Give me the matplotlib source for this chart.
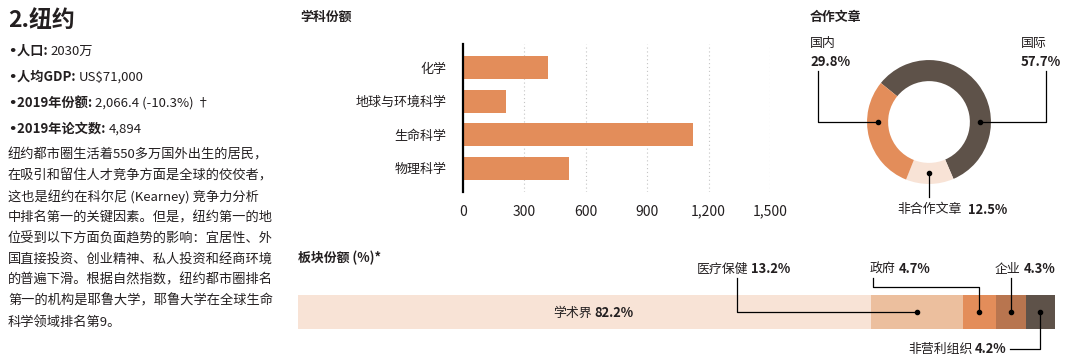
import matplotlib
matplotlib.use("Agg")
import matplotlib.pyplot as plt
import numpy as np

plt.rcParams["font.family"] = ["Noto Sans CJK SC", "DejaVu Sans"]

# ---- data ----
city_title = "2.纽约"
fact_keys = ["人口: ", "人均GDP: ", "2019年份额: ", "2019年论文数: "]
fact_vals = ["2030万", "US$71,000", "2,066.4 (-10.3%) †", "4,894"]
paragraph = [
    "纽约都市圈生活着550多万国外出生的居民，",
    "在吸引和留住人才竞争方面是全球的佼佼者，",
    "这也是纽约在科尔尼 (Kearney) 竞争力分析",
    "中排名第一的关键因素。但是，纽约第一的地",
    "位受到以下方面负面趋势的影响：宜居性、外",
    "国直接投资、创业精神、私人投资和经商环境",
    "的普遍下滑。根据自然指数，纽约都市圈排名",
    "第一的机构是耶鲁大学，耶鲁大学在全球生命",
    "科学领域排名第9。",
]

subjects = ["化学", "地球与环境科学", "生命科学", "物理科学"]
subject_share = [414, 209, 1124, 519]
subject_ticks = [0, 300, 600, 900, 1200, 1500]

collab_labels = ["国际", "非合作文章", "国内"]
collab_pct = [57.7, 12.5, 29.8]

sector_labels = ["学术界", "医疗保健", "政府", "企业", "非营利组织"]
sector_pct = [82.2, 13.2, 4.7, 4.3, 4.2]

# ---- style ----
DARK = "#5e5249"
ORANGE = "#e38d5a"
PALE = "#f8e3d6"
TAN = "#ecbf9e"
RUST = "#b8754f"
TXT = "#231f20"
W, H = 1080, 362

fig = plt.figure(figsize=(W / 100, H / 100), dpi=100)


def box(l, t, r, b):
    """axes rect from pixel edges (top-left origin)"""
    return [l / W, (H - b) / H, (r - l) / W, (b - t) / H]


# overlay in pixel coords for free text / leader lines
ov = fig.add_axes([0, 0, 1, 1], zorder=5)
ov.set_xlim(0, W); ov.set_ylim(H, 0); ov.axis("off")


def px(ax, x, y):
    dx, dy = ax.transData.transform((x, y))
    return dx * W / fig.bbox.width, H - dy * H / fig.bbox.height


def pair(x, y, a, b, size=9.3, gap=2):
    """regular text a followed by bold text b"""
    t = ov.text(x, y, a, fontsize=size, color=TXT, ha="left", va="center")
    ov.annotate(b, xy=(1, 0.5), xycoords=t, xytext=(gap, 0), textcoords="offset points",
                fontsize=size, color=TXT, fontweight="bold", ha="left", va="center")
    return t


def fact(x, y, a, b, size=9.5):
    """bullet + bold key + regular value"""
    d = ov.text(x, y, "•", fontsize=size, color=TXT, fontweight="bold", ha="left", va="center",
                family="DejaVu Sans")
    t = ov.annotate(a, xy=(1, 0.5), xycoords=d, xytext=(0.5, 0), textcoords="offset points",
                    fontsize=size, color=TXT, fontweight="bold", ha="left", va="center")
    ov.annotate(b, xy=(1, 0.5), xycoords=t, xytext=(0, 0), textcoords="offset points",
                fontsize=size, color=TXT, ha="left", va="center")


# ---- left text column ----
ov.text(8, 20, city_title, fontsize=16.5, fontweight="bold", color=TXT, va="center")
for i, (k, v) in enumerate(zip(fact_keys, fact_vals)):
    fact(8, 51 + 26 * i, k, v)
for i, line in enumerate(paragraph):
    ov.text(8, 155 + 20.9 * i, line, fontsize=9.5, color=TXT, va="center")

# ---- subject share bars ----
ax = fig.add_axes(box(463, 44, 770, 192))
y = np.arange(len(subjects))
ax.barh(y, subject_share, height=0.68, color=ORANGE, zorder=2)
ax.set_ylim(3.7, -0.7)
ax.set_xlim(0, 1500)
ax.set_yticks(y, subjects, fontsize=9.4, color=TXT)
ax.set_xticks(subject_ticks, [f"{v:,}" for v in subject_ticks], fontsize=10, color=TXT)
ax.tick_params(length=0)
ax.tick_params(axis="y", pad=12)
ax.tick_params(axis="x", pad=9)
for s in ["top", "right", "bottom"]:
    ax.spines[s].set_visible(False)
ax.spines["left"].set_linewidth(1.6)
ax.spines["left"].set_color("black")
ax.spines["left"].set_zorder(3)
ax.grid(axis="x", linestyle=(0, (1, 2.5)), color="#c4c4c4", linewidth=0.8, zorder=0)
ov.text(300, 17, "学科份额", fontsize=9.3, fontweight="bold", color=TXT, va="center")

# ---- collaboration donut ----
pa = fig.add_axes(box(929 - 70, 122 - 70, 929 + 70, 122 + 70))
pa.pie(collab_pct, colors=[DARK, PALE, ORANGE], startangle=141, counterclock=False,
       wedgeprops=dict(width=0.34, linewidth=0))
pa.set_xlim(-1.13, 1.13); pa.set_ylim(-1.13, 1.13); pa.set_aspect("equal")
ov.text(810, 17, "合作文章", fontsize=9.3, fontweight="bold", color=TXT, va="center")

rmid = 1 - 0.34 / 2
ang = {"国际": 0, "非合作文章": -90, "国内": 180}
dots = {k: px(pa, rmid * np.cos(np.radians(a)), rmid * np.sin(np.radians(a))) for k, a in ang.items()}
lw = 0.9
x0, y0 = dots["国内"]
ov.plot([x0, 818, 818], [y0, y0, 71], color="black", lw=lw)
x0, y0 = dots["国际"]
ov.plot([x0, 1046, 1046], [y0, y0, 71], color="black", lw=lw)
x0, y0 = dots["非合作文章"]
ov.plot([x0, x0], [y0, 197], color="black", lw=lw)
for x0, y0 in dots.values():
    ov.plot(x0, y0, "o", ms=3, color="black")

pct = dict(zip(collab_labels, collab_pct))
ov.text(810, 44, "国内", fontsize=9.3, color=TXT, va="center")
ov.text(810, 62, f"{pct['国内']}%", fontsize=9.5, fontweight="bold", color=TXT, va="center")
ov.text(1021, 44, "国际", fontsize=9.3, color=TXT, va="center")
ov.text(1021, 62, f"{pct['国际']}%", fontsize=9.5, fontweight="bold", color=TXT, va="center")
pair(897, 210, "非合作文章", f"{pct['非合作文章']}%", size=9.3, gap=5)

# ---- sector stacked bar ----
sa = fig.add_axes(box(298, 295, 1055, 329))
left = np.concatenate([[0], np.cumsum(sector_pct)[:-1]])
sa.barh(0, sector_pct, left=left, height=1, color=[PALE, TAN, ORANGE, RUST, DARK], linewidth=0)
sa.set_xlim(0, sum(sector_pct)); sa.set_ylim(-0.5, 0.5)
sa.axis("off")
ov.text(298, 258, "板块份额 (%)*", fontsize=9.3, fontweight="bold", color=TXT, va="center")

mids = [px(sa, l + v / 2, 0) for l, v in zip(left, sector_pct)]
pair(553, 313, sector_labels[0], f"{sector_pct[0]}%")

hx, hy = mids[1]
ov.plot([hx, 737, 737], [hy, hy, 278], color="black", lw=lw)
pair(697, 269, sector_labels[1], f"{sector_pct[1]}%")

gx, gy = mids[2]
ov.plot([gx, gx, 873, 873], [gy, 287, 287, 278], color="black", lw=lw)
pair(870, 269, sector_labels[2], f"{sector_pct[2]}%")

cx, cy = mids[3]
ov.plot([cx, cx], [cy, 278], color="black", lw=lw)
pair(995, 269, sector_labels[3], f"{sector_pct[3]}%")

nx, ny = mids[4]
ov.plot([nx, nx, 1010], [ny, 349, 349], color="black", lw=lw)
pair(908, 349, sector_labels[4], f"{sector_pct[4]}%")

for x0, y0 in mids[1:]:
    ov.plot(x0, y0, "o", ms=3, color="black")

fig.savefig("out.png", dpi=100, facecolor="white")
